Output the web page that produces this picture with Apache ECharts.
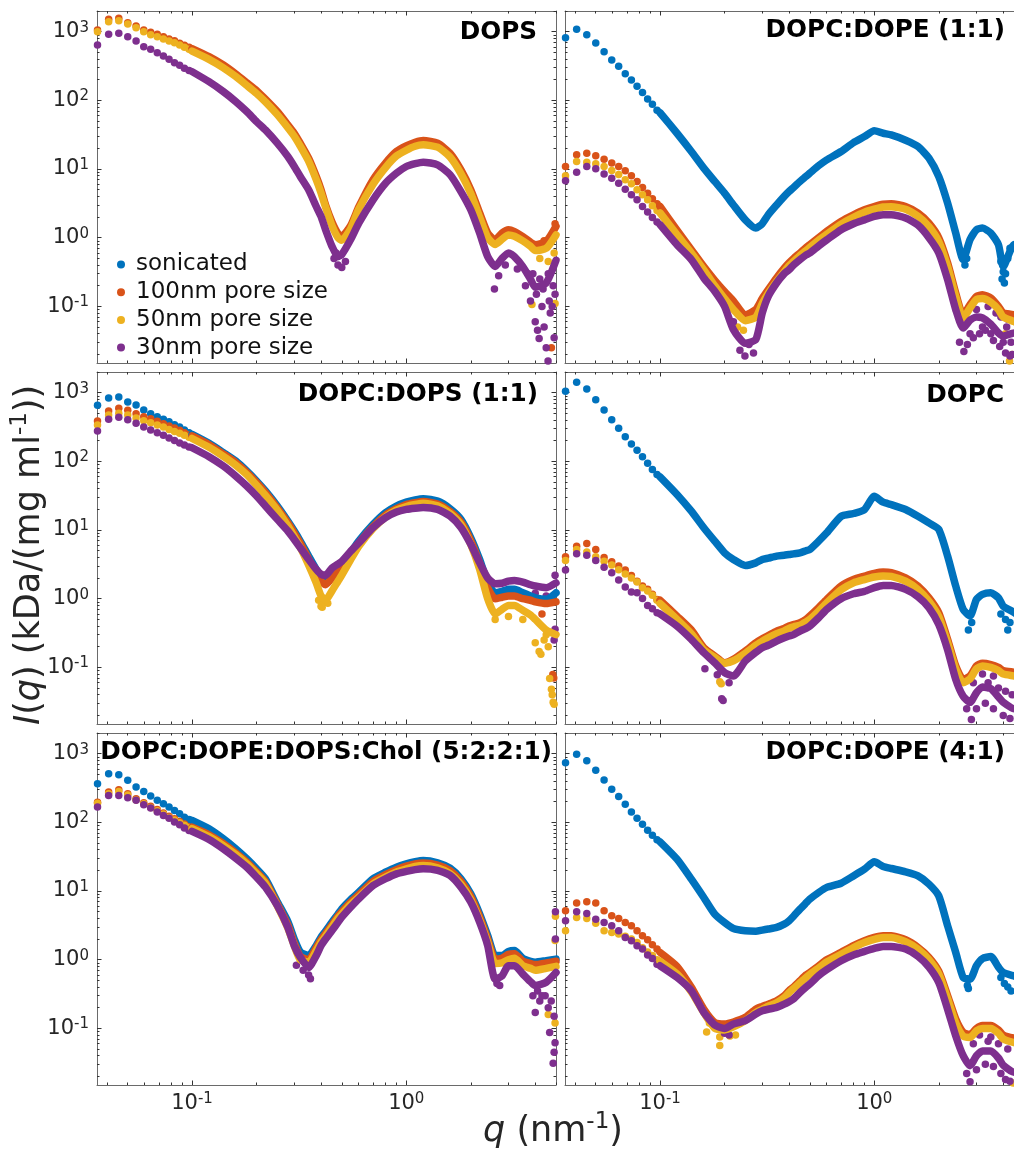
<!DOCTYPE html>
<html>
<head>
<meta charset="utf-8">
<script src="https://cdn.jsdelivr.net/npm/echarts@6/dist/echarts.min.js"></script>
<style>
  html, body { margin: 0; padding: 0; background: #fff; }
  #chart { width: 1014px; height: 1150px; }
</style>
</head>
<body>
<div id="chart"></div>
<script>
const seriesNames = ['sonicated', '100nm pore size', '50nm pore size', '30nm pore size']
const colors = ['#0072BD', '#D95319', '#EDB120', '#7E2F8E']

// tick positions
const majorX = [0.1, 1]
const minorX = [0.04, 0.05, 0.06, 0.07, 0.08, 0.09, 0.2, 0.3, 0.4, 0.5, 0.6, 0.7, 0.8, 0.9, 2, 3, 4, 5]
const majorY = [0.1, 1, 10, 100, 1000]
const minorY = [0.02, 0.03, 0.04, 0.05, 0.06, 0.07, 0.08, 0.09, 0.2, 0.3, 0.4, 0.5, 0.6, 0.7, 0.8, 0.9,
  2, 3, 4, 5, 6, 7, 8, 9, 20, 30, 40, 50, 60, 70, 80, 90, 200, 300, 400, 500, 600, 700, 800, 900, 2000]

// q of the separate low-q points, and q of the points along the dense part
const qLow = [0.0362, 0.0408, 0.0455, 0.0501, 0.0548, 0.0595, 0.0641, 0.0688, 0.0735, 0.0781, 0.0828, 0.0875, 0.0921, 0.0968]
const qDense = [0.1, 0.12, 0.14, 0.16, 0.18, 0.2, 0.22, 0.25, 0.28, 0.3, 0.32, 0.35, 0.38, 0.4, 0.42, 0.45, 0.48, 0.5,
  0.55, 0.6, 0.7, 0.8, 0.9, 1.0, 1.1, 1.2, 1.4, 1.6, 1.8, 2.0, 2.2, 2.4, 2.6, 2.8, 3.0, 3.2, 3.5, 3.8, 4.0, 4.5, 5.0]

// DOPS
const dopsLow100 = [1057, 1511, 1563, 1352, 1210, 1057, 978, 914, 846, 782, 740, 677, 633, 592]
const dopsLow50 = [1000, 1397, 1445, 1292, 1143, 1000, 904, 846, 782, 732, 692, 640, 592, 553]
const dopsLow30 = [640, 915, 946, 846, 731, 605, 553, 495, 443, 396, 354, 324, 293, 271]
const dops100 = [566, 433, 327, 242, 181, 139, 104, 68.7, 44, 33.2, 23.8, 14.4, 7.8, 5.0, 3.0, 1.7, 1.15, 1.05, 1.5, 2.8, 7.0, 12.2, 18, 21.7, 24.5, 26, 23.8, 17, 9.7, 5.0, 2.3, 1.17, 0.93, 1.17, 1.31, 1.23, 1.04, 0.86, 0.79, 0.88, 1.46]
const dops50 = [520, 395, 298, 222, 165, 126, 95, 62, 40, 30, 21.5, 13, 7.0, 4.5, 2.8, 1.5, 1.0, 0.92, 1.35, 2.6, 6.0, 10.5, 15.5, 18.8, 21.5, 22.5, 20.8, 15.0, 8.6, 4.4, 2.0, 1.0, 0.8, 0.95, 1.1, 1.05, 0.9, 0.75, 0.65, 0.7, 1.1]
const dops30 = [262, 187, 134, 96, 68.7, 49.1, 37.1, 23.8, 15.2, 10.9, 7.8, 5.0, 2.85, 2.04, 1.31, 0.75, 0.53, 0.57, 0.94, 1.63, 3.56, 6.2, 8.7, 10.9, 12.0, 12.6, 11.5, 8.3, 4.7, 2.55, 1.17, 0.53, 0.38, 0.5, 0.6, 0.53, 0.38, 0.25, 0.19, 0.22, 0.47]
const dopsOut100 = [[4.76, 0.025], [4.95, 1.6], [4.4, 0.9], [4.1, 0.7]]
const dopsOut50 = [[3.86, 0.107], [4.95, 0.11], [4.9, 0.6], [4.2, 0.5], [4.6, 0.45]]
const dopsOut30 = [[0.47, 0.6], [0.48, 0.4], [0.5, 0.37], [0.52, 0.45], [0.46, 0.5], [2.58, 0.18], [3.6, 0.2], [3.8, 0.12],
  [4.0, 0.06], [4.1, 0.045], [4.17, 0.034], [4.3, 0.1], [4.4, 0.05], [4.5, 0.025], [4.59, 0.016], [4.7, 0.08], [4.8, 0.1],
  [4.9, 0.035], [4.95, 0.15], [3.9, 0.3], [4.2, 0.25], [4.6, 0.3], [2.7, 0.28], [3.3, 0.35], [3.7, 0.3], [4.05, 0.15],
  [4.35, 0.18], [4.65, 0.12], [4.85, 0.2], [2.9, 0.4]]

// DOPC:DOPE (1:1)
const dope11LowSon = [818, 1081, 904, 684, 512, 387, 313, 245, 198, 160, 130, 105, 88, 72]
const dope11Low100 = [10.9, 16.1, 17.0, 15.6, 13.9, 12.2, 10.9, 9.42, 7.96, 6.59, 5.39, 4.46, 3.69, 3.12]
const dope11Low50 = [7.96, 12.9, 12.6, 11.9, 10.9, 9.53, 8.32, 6.97, 6.1, 4.98, 4.22, 3.56, 2.92, 2.49]
const dope11Low30 = [6.73, 9.0, 10.9, 10.1, 8.5, 7.37, 6.23, 5.1, 4.22, 3.56, 2.85, 2.36, 1.97, 1.69]
const dope11Son = [66, 33.2, 18, 10.3, 6.6, 4.46, 3.0, 1.82, 1.38, 1.6, 2.16, 3.0, 4.0, 4.7, 5.4, 6.6, 7.8, 8.7, 11.2, 13.6, 18, 24.3, 29.7, 36, 33.2, 31.4, 26.3, 21.3, 14.4, 7.8, 3.19, 1.17, 0.48, 0.94, 1.31, 1.38, 1.17, 0.79, 0.38, 0.8, 0.6]
const dope11100 = [2.85, 1.29, 0.67, 0.38, 0.24, 0.165, 0.12, 0.075, 0.09, 0.13, 0.175, 0.26, 0.36, 0.43, 0.5, 0.6, 0.72, 0.79, 1.0, 1.24, 1.73, 2.16, 2.55, 2.85, 3.08, 3.12, 2.85, 2.28, 1.63, 1.0, 0.43, 0.157, 0.075, 0.106, 0.14, 0.148, 0.132, 0.1, 0.081, 0.075, 0.06]
const dope1150 = [2.3, 1.1, 0.6, 0.34, 0.2, 0.13, 0.09, 0.062, 0.07, 0.11, 0.155, 0.23, 0.32, 0.39, 0.45, 0.55, 0.65, 0.72, 0.92, 1.12, 1.58, 1.98, 2.35, 2.6, 2.8, 2.82, 2.6, 2.05, 1.45, 0.88, 0.38, 0.14, 0.068, 0.095, 0.126, 0.13, 0.115, 0.09, 0.07, 0.06, 0.05]
const dope1130 = [1.55, 0.79, 0.48, 0.26, 0.166, 0.1, 0.046, 0.029, 0.033, 0.08, 0.14, 0.219, 0.3, 0.342, 0.4, 0.48, 0.56, 0.6, 0.76, 0.93, 1.31, 1.6, 1.82, 2.04, 2.16, 2.16, 1.94, 1.52, 1.0, 0.6, 0.245, 0.09, 0.0485, 0.063, 0.07, 0.068, 0.055, 0.041, 0.037, 0.041, 0.04]
const dope11OutSon = [[3.9, 0.45], [4.0, 0.32], [4.1, 0.3], [4.2, 0.5], [4.3, 0.7], [2.65, 0.4], [2.7, 0.5], [3.95, 0.25], [4.05, 0.22]]
const dope11Out50 = [[0.224, 0.046], [0.23, 0.05], [0.245, 0.045], [4.28, 0.016], [4.4, 0.02], [4.1, 0.04]]
const dope11Out30 = [[0.236, 0.023], [0.249, 0.019], [0.273, 0.021], [0.26, 0.028], [0.22, 0.06], [2.5, 0.03], [2.62, 0.022],
  [2.72, 0.028], [2.9, 0.035], [3.1, 0.04], [3.3, 0.045], [3.6, 0.032], [3.85, 0.026], [4.1, 0.021], [4.3, 0.019],
  [3.0, 0.09], [3.4, 0.1], [3.9, 0.07], [4.2, 0.065], [4.4, 0.02], [2.8, 0.04], [3.2, 0.05], [3.5, 0.04], [3.7, 0.08],
  [4.0, 0.03], [4.15, 0.05], [4.35, 0.03]]

// DOPC:DOPS (1:1)
const dopcdopsLowSon = [654, 836, 864, 731, 661, 559, 495, 447, 409, 378, 342, 316, 286, 261]
const dopcdopsLow100 = [387, 541, 592, 553, 495, 447, 418, 383, 354, 327, 306, 283, 261, 242]
const dopcdopsLow50 = [338, 473, 500, 473, 428, 391, 365, 338, 316, 292, 273, 256, 240, 224]
const dopcdopsLow30 = [277, 409, 438, 405, 358, 316, 286, 261, 240, 219, 202, 185, 173, 162]
const dopcdopsSon = [247, 183, 134, 101, 72.3, 51.7, 37, 22.4, 13.5, 9.67, 6.92, 4.18, 2.67, 2.14, 2.02, 2.39, 2.85, 3.16, 4.68, 6.92, 12.1, 17.9, 22.4, 25.6, 27.5, 28.6, 26.4, 20.5, 14.3, 7.73, 3.74, 1.71, 1.22, 1.28, 1.37, 1.37, 1.22, 1.1, 1.03, 0.98, 1.22]
const dopcdops100 = [235, 175, 128, 96, 69, 49, 35, 21, 12.7, 9.0, 6.4, 3.8, 2.35, 1.8, 1.6, 2.0, 2.45, 2.8, 4.3, 6.4, 11.2, 16.5, 20.5, 23.5, 25, 26, 24, 18.6, 13, 7.0, 3.3, 1.45, 1.0, 1.05, 1.1, 1.1, 1.0, 0.95, 0.9, 0.85, 0.9]
const dopcdops50 = [215, 160, 118, 88, 64, 45, 32, 19.5, 11.5, 8.0, 5.6, 3.1, 1.7, 1.1, 0.95, 1.3, 1.8, 2.2, 3.7, 5.8, 10.5, 15.5, 19.5, 22, 23.5, 24.5, 22.5, 17.5, 12, 6.2, 2.7, 1.0, 0.6, 0.7, 0.8, 0.8, 0.68, 0.58, 0.5, 0.35, 0.3]
const dopcdops30 = [158, 117, 85.5, 61, 43.7, 31.3, 22.4, 14.3, 9.67, 7.31, 5.53, 3.74, 2.67, 2.27, 2.2, 2.8, 3.2, 3.5, 4.9, 6.5, 10.9, 15.2, 18.3, 20, 20.8, 21.3, 20, 16, 10.9, 6.2, 3.35, 2.0, 1.65, 1.68, 1.8, 1.85, 1.75, 1.6, 1.53, 1.45, 1.7]
const dopcdopsOut100 = [[4.83, 0.079], [4.88, 0.07], [4.3, 0.6]]
const dopcdopsOut50 = [[0.40, 0.78], [0.405, 0.75], [0.43, 0.86], [0.39, 0.95], [0.41, 0.9], [4.0, 0.229], [4.17, 0.17],
  [4.25, 0.155], [4.67, 0.069], [4.76, 0.048], [4.85, 0.031], [4.9, 0.029], [4.8, 0.04], [4.5, 0.3], [3.0, 0.55], [3.5, 0.5],
  [2.6, 0.5], [4.4, 0.25], [4.6, 0.2]]
const dopcdopsOut30 = [[4.95, 2.2], [4.9, 0.25], [4.95, 0.36], [4.0, 1.2], [4.5, 1.1], [4.7, 0.9]]

// DOPC
const dopcLowSon = [1046, 1413, 1130, 791, 560, 405, 303, 229, 179, 145, 117, 93.8, 75.9, 64.3]
const dopcLow100 = [4.07, 5.82, 6.37, 5.21, 3.98, 3.45, 2.99, 2.61, 2.18, 1.80, 1.53, 1.37, 1.16, 0.977]
const dopcLow50 = [3.6, 5.2, 4.8, 4.1, 3.5, 3.1, 2.65, 2.3, 2.0, 1.75, 1.45, 1.3, 1.12, 0.95]
const dopcLow30 = [2.61, 4.51, 4.31, 3.61, 2.88, 2.39, 1.87, 1.48, 1.25, 1.22, 1.01, 0.8, 0.715, 0.625]
const dopcSon = [59.4, 32.9, 18.8, 10.8, 6.89, 4.66, 3.73, 3.05, 3.33, 3.73, 3.9, 4.17, 4.3, 4.41, 4.5, 4.66, 5.0, 5.21, 6.89, 9.1, 15.8, 17.4, 19.9, 31, 25.4, 23.5, 19.9, 15.9, 12.7, 10.2, 4.17, 1.53, 0.7, 0.56, 0.98, 1.16, 1.22, 1.03, 0.78, 0.63, 0.5]
const dopc100 = [0.95, 0.558, 0.35, 0.194, 0.147, 0.117, 0.131, 0.173, 0.229, 0.262, 0.29, 0.338, 0.37, 0.40, 0.42, 0.447, 0.5, 0.558, 0.74, 0.977, 1.53, 1.91, 2.13, 2.33, 2.44, 2.39, 2.02, 1.53, 1.03, 0.625, 0.256, 0.105, 0.067, 0.075, 0.105, 0.115, 0.11, 0.1, 0.09, 0.085, 0.08]
const dopc50 = [0.85, 0.5, 0.31, 0.18, 0.14, 0.115, 0.125, 0.16, 0.21, 0.24, 0.27, 0.31, 0.34, 0.37, 0.39, 0.41, 0.46, 0.5, 0.66, 0.87, 1.35, 1.7, 1.9, 2.07, 2.15, 2.12, 1.8, 1.36, 0.92, 0.55, 0.23, 0.095, 0.06, 0.068, 0.095, 0.105, 0.1, 0.09, 0.08, 0.075, 0.07]
const dopc30 = [0.6, 0.40, 0.256, 0.164, 0.117, 0.084, 0.075, 0.124, 0.166, 0.194, 0.21, 0.242, 0.27, 0.286, 0.3, 0.338, 0.37, 0.40, 0.528, 0.70, 1.0, 1.18, 1.28, 1.45, 1.56, 1.56, 1.37, 1.07, 0.74, 0.42, 0.18, 0.067, 0.038, 0.031, 0.043, 0.052, 0.049, 0.037, 0.031, 0.025, 0.03]
const dopcOutSon = [[2.75, 0.35], [2.85, 0.45], [3.9, 0.6], [4.2, 0.35], [4.3, 0.45], [4.1, 0.5]]
const dopcOut50 = [[0.19, 0.062], [0.193, 0.058]]
const dopcOut30 = [[0.194, 0.035], [0.197, 0.033], [0.162, 0.0955], [0.185, 0.078], [0.21, 0.06], [2.84, 0.0175], [2.7, 0.025],
  [3.0, 0.025], [3.3, 0.03], [3.6, 0.025], [4.0, 0.02], [4.3, 0.018], [3.2, 0.08], [3.6, 0.075], [2.9, 0.06],
  [3.4, 0.06], [3.8, 0.05], [4.1, 0.045], [4.4, 0.04]]

// DOPC:DOPE:DOPS:Chol (5:2:2:1)
const cholLowSon = [365, 511, 494, 409, 326, 282, 242, 209, 187, 167, 149, 134, 119, 110]
const cholLow100 = [197, 276, 298, 261, 221, 193, 171, 154, 137, 123, 113, 103, 94.4, 87.3]
const cholLow50 = [190, 262, 282, 250, 212, 186, 165, 148, 132, 118, 108, 99, 91, 84]
const cholLow30 = [167, 247, 247, 228, 209, 181, 162, 141, 126, 115, 101, 92.3, 82.5, 76.2]
const cholSon = [107, 80.7, 57.7, 41.2, 29.5, 21.1, 15.1, 7.0, 3.6, 2.0, 1.3, 1.15, 1.61, 2.13, 2.6, 3.52, 4.6, 5.5, 7.5, 9.6, 15.1, 18.8, 22.3, 24.9, 26.8, 27.9, 25.8, 21.5, 15.1, 9.1, 4.65, 2.25, 1.15, 1.15, 1.32, 1.36, 1.05, 0.95, 0.92, 0.97, 1.02]
const chol100 = [85, 66, 49, 36, 26.5, 19, 13.8, 6.5, 3.2, 1.75, 1.12, 1.0, 1.5, 1.95, 2.4, 3.2, 4.3, 5.0, 6.9, 8.8, 13.8, 17.3, 20.5, 23, 24.8, 25.5, 23.8, 19.8, 13.8, 8.3, 4.2, 2.0, 1.02, 1.05, 1.2, 1.22, 0.95, 0.88, 0.85, 0.9, 0.95]
const chol50 = [81, 62, 46, 34, 25, 18, 13, 6.1, 2.9, 1.6, 1.0, 0.92, 1.35, 1.8, 2.2, 3.0, 4.0, 4.6, 6.4, 8.1, 12.7, 16, 19, 21, 22.8, 23.5, 21.8, 18, 12.5, 7.5, 3.8, 1.8, 0.88, 0.9, 1.0, 1.05, 0.82, 0.75, 0.7, 0.75, 0.8]
const chol30 = [73.8, 56.4, 41.2, 30.1, 22.3, 15.9, 11.4, 6.15, 2.97, 1.6, 1.09, 0.77, 1.15, 1.6, 2.0, 2.66, 3.5, 4.16, 5.8, 7.69, 12, 15.1, 17.8, 19.3, 20.5, 21.1, 20, 16.9, 11.4, 6.9, 3.52, 1.6, 0.52, 0.58, 0.82, 0.82, 0.62, 0.48, 0.42, 0.47, 0.65]
const cholOut50 = [[4.97, 4.3], [4.95, 1.9], [4.6, 0.16], [4.95, 0.12]]
const cholOut30 = [[0.357, 0.53], [0.35, 0.6], [0.307, 0.83], [0.33, 0.7], [2.73, 0.42], [4.0, 0.17], [4.2, 0.25], [4.67, 0.087],
  [4.85, 0.031], [4.9, 0.045], [4.95, 0.062], [4.45, 0.3], [4.97, 5.0], [4.97, 2.0], [4.6, 0.2], [3.9, 0.3],
  [2.65, 0.45], [4.1, 0.35], [4.3, 0.3], [4.75, 0.25], [4.9, 0.15]]

// DOPC:DOPE (4:1)
const dope41LowSon = [740, 978, 791, 572, 414, 303, 237, 183, 142, 115, 93.8, 76.7, 64.9, 55.6]
const dope41Low100 = [5.15, 6.67, 6.97, 6.67, 5.15, 4.36, 3.99, 3.48, 3.12, 2.64, 2.23, 1.95, 1.65, 1.43]
const dope41Low50 = [2.64, 4.12, 3.99, 3.41, 2.64, 2.5, 2.37, 2.2, 2.0, 1.78, 1.5, 1.3, 1.15, 1.0]
const dope41Low30 = [3.69, 4.99, 4.71, 3.9, 3.48, 3.12, 2.64, 2.11, 1.89, 1.6, 1.43, 1.17, 1.04, 0.86]
const dope41Son = [52, 29.1, 14.9, 8.06, 4.61, 3.48, 2.85, 2.64, 2.6, 2.7, 2.8, 2.95, 3.3, 3.69, 4.3, 5.45, 6.7, 7.62, 9.53, 11.3, 13, 16.6, 20.8, 26.6, 22.8, 21.3, 19, 16.6, 12.6, 8.5, 3.12, 1.28, 0.553, 0.52, 0.82, 1.04, 1.11, 0.78, 0.65, 0.58, 0.5]
const dope41100 = [1.28, 0.8, 0.396, 0.191, 0.122, 0.116, 0.124, 0.145, 0.191, 0.209, 0.225, 0.253, 0.3, 0.354, 0.4, 0.494, 0.6, 0.653, 0.81, 1.0, 1.28, 1.6, 1.89, 2.11, 2.23, 2.23, 1.95, 1.51, 1.08, 0.68, 0.3, 0.137, 0.0877, 0.081, 0.1, 0.11, 0.11, 0.095, 0.08, 0.072, 0.07]
const dope4150 = [0.95, 0.62, 0.34, 0.17, 0.1, 0.095, 0.105, 0.13, 0.17, 0.19, 0.21, 0.235, 0.28, 0.33, 0.38, 0.46, 0.55, 0.61, 0.76, 0.93, 1.2, 1.5, 1.78, 1.98, 2.1, 2.1, 1.83, 1.42, 1.0, 0.62, 0.27, 0.12, 0.077, 0.074, 0.092, 0.1, 0.1, 0.085, 0.07, 0.062, 0.06]
const dope4130 = [0.817, 0.553, 0.354, 0.171, 0.112, 0.1, 0.116, 0.13, 0.162, 0.181, 0.19, 0.202, 0.225, 0.245, 0.27, 0.334, 0.4, 0.442, 0.585, 0.715, 0.966, 1.17, 1.32, 1.46, 1.56, 1.56, 1.43, 1.12, 0.78, 0.465, 0.19, 0.078, 0.04, 0.0287, 0.04, 0.047, 0.047, 0.037, 0.029, 0.023, 0.025]
const dope41OutSon = [[2.72, 0.42], [2.75, 0.38], [3.9, 0.55], [4.2, 0.4], [4.35, 0.35], [4.05, 0.45]]
const dope41Out50 = [[0.165, 0.0885], [0.19, 0.0565], [0.19, 0.075], [0.212, 0.0775], [0.225, 0.08], [0.17, 0.12], [4.45, 0.016]]
const dope41Out30 = [[2.8, 0.0167], [4.1, 0.018], [2.7, 0.022], [3.0, 0.025], [3.3, 0.03], [3.6, 0.028], [3.9, 0.022],
  [4.3, 0.017], [3.1, 0.08], [3.5, 0.075], [2.9, 0.06], [0.2, 0.085], [0.21, 0.08], [3.4, 0.065], [3.8, 0.06], [4.2, 0.05]]

// panels in grid order: row by row, left then right
const panels = [
  { title: 'DOPS', tx: 537, ty: 33,
    low: [null, dopsLow100, dopsLow50, dopsLow30], dense: [null, dops100, dops50, dops30], out: [null, dopsOut100, dopsOut50, dopsOut30] },
  { title: 'DOPC:DOPE (1:1)', tx: 1005, ty: 31,
    low: [dope11LowSon, dope11Low100, dope11Low50, dope11Low30], dense: [dope11Son, dope11100, dope1150, dope1130], out: [dope11OutSon, null, dope11Out50, dope11Out30] },
  { title: 'DOPC:DOPS (1:1)', tx: 538, ty: 395,
    low: [dopcdopsLowSon, dopcdopsLow100, dopcdopsLow50, dopcdopsLow30], dense: [dopcdopsSon, dopcdops100, dopcdops50, dopcdops30], out: [null, dopcdopsOut100, dopcdopsOut50, dopcdopsOut30] },
  { title: 'DOPC', tx: 1004, ty: 396,
    low: [dopcLowSon, dopcLow100, dopcLow50, dopcLow30], dense: [dopcSon, dopc100, dopc50, dopc30], out: [dopcOutSon, null, dopcOut50, dopcOut30] },
  { title: 'DOPC:DOPE:DOPS:Chol (5:2:2:1)', tx: 552, ty: 753,
    low: [cholLowSon, cholLow100, cholLow50, cholLow30], dense: [cholSon, chol100, chol50, chol30], out: [null, null, cholOut50, cholOut30] },
  { title: 'DOPC:DOPE (4:1)', tx: 1005, ty: 753,
    low: [dope41LowSon, dope41Low100, dope41Low50, dope41Low30], dense: [dope41Son, dope41100, dope4150, dope4130], out: [dope41OutSon, null, dope41Out50, dope41Out30] }
]

const font = 'DejaVu Sans'
const textColor = '#262626'
const frameColor = '#6a6a6a'
const tickColor = '#333'
const gridLefts = [97, 565]
const gridTops = [11, 372, 733]

const powLabel = v => '{b|10}{s|' + Math.round(Math.log10(v)) + '}'
const labelRich = {
  b: { fontFamily: font, fontSize: 21, color: textColor, lineHeight: 23 },
  s: { fontFamily: font, fontSize: 15, color: textColor, lineHeight: 23, verticalAlign: 'top' }
}

function makeAxis (gridIndex, dim, position, ticks, len, major, showLabels) {
  const isX = dim === 'x'
  return {
    type: 'log',
    logBase: 10,
    gridIndex,
    position,
    min: isX ? 0.036 : 0.015,
    max: isX ? 5 : 2000,
    axisLine: { show: major, onZero: false, lineStyle: { color: frameColor, width: 1 } },
    axisTick: { show: true, inside: true, length: len, customValues: ticks, lineStyle: { color: tickColor, width: 1 } },
    axisLabel: showLabels ? {
      show: true, customValues: ticks, formatter: powLabel, rich: labelRich, margin: isX ? 7 : 8
    } : { show: false },
    splitLine: { show: false },
    minorTick: { show: false }
  }
}

const grids = [], xAxes = [], yAxes = [], series = []
panels.forEach((p, i) => {
  const col = i % 2, row = Math.floor(i / 2)
  grids.push({ left: gridLefts[col], top: gridTops[row], width: 459, height: 352, containLabel: false, outerBoundsMode: 'none' })
  xAxes.push(makeAxis(i, 'x', 'bottom', majorX, 4.5, true, row === 2))
  xAxes.push(makeAxis(i, 'x', 'bottom', minorX, 2.5, false, false))
  xAxes.push(makeAxis(i, 'x', 'top', majorX, 4.5, true, false))
  xAxes.push(makeAxis(i, 'x', 'top', minorX, 2.5, false, false))
  yAxes.push(makeAxis(i, 'y', 'left', majorY, 4.5, true, col === 0))
  yAxes.push(makeAxis(i, 'y', 'left', minorY, 2.5, false, false))
  yAxes.push(makeAxis(i, 'y', 'right', majorY, 4.5, true, false))
  yAxes.push(makeAxis(i, 'y', 'right', minorY, 2.5, false, false))

  for (let k = 0; k < 4; k++) {
    if (!p.low[k]) continue
    const base = { name: seriesNames[k], xAxisIndex: i * 4, yAxisIndex: i * 4, silent: true, animation: false }
    const dot = { type: 'scatter', symbol: 'circle', symbolSize: 7.5, itemStyle: { color: colors[k], opacity: 1 } }
    series.push({ ...base, ...dot, data: qLow.map((q, j) => [q, p.low[k][j]]) })
    series.push({
      ...base, type: 'line', symbol: 'none', showSymbol: false, smooth: 0.2,
      itemStyle: { color: colors[k] },
      lineStyle: { color: colors[k], width: 7.5, cap: 'round', join: 'round', opacity: 1 },
      data: qDense.map((q, j) => [q, p.dense[k][j]])
    })
    if (p.out[k]) series.push({ ...base, ...dot, data: p.out[k] })
  }
})

const titleGraphics = panels.map(p => ({
  type: 'text', x: p.tx, y: p.ty, z: 100,
  style: {
    text: p.title, fill: '#000', fontFamily: font, fontWeight: 'bold', fontSize: 24.7,
    align: 'right', verticalAlign: 'middle', textAlign: 'right', textVerticalAlign: 'middle'
  }
}))

const nameRich = {
  i: { fontFamily: font, fontSize: 35, fontStyle: 'italic', fill: textColor, lineHeight: 42 },
  n: { fontFamily: font, fontSize: 35, fill: textColor, lineHeight: 42 },
  s: { fontFamily: font, fontSize: 23, fill: textColor, lineHeight: 42, verticalAlign: 'top' }
}

const chart = echarts.init(document.getElementById('chart'), null, { renderer: 'canvas' })
chart.setOption({
  animation: false,
  backgroundColor: '#fff',
  grid: grids,
  xAxis: xAxes,
  yAxis: yAxes,
  legend: {
    data: seriesNames,
    orient: 'vertical',
    left: 112,
    top: 248,
    itemGap: 4.7,
    itemWidth: 20,
    itemHeight: 8,
    icon: 'circle',
    selectedMode: false,
    itemStyle: { opacity: 1 },
    textStyle: { fontFamily: font, fontSize: 23, color: '#111', lineHeight: 23 }
  },
  graphic: [
    ...titleGraphics,
    {
      type: 'text', x: 553, y: 1132,
      style: {
        text: '{i|q}{n| (nm}{s|-1}{n|)}', rich: nameRich, fontFamily: font, fontSize: 35, fill: textColor,
        align: 'center', verticalAlign: 'middle', textAlign: 'center', textVerticalAlign: 'middle'
      }
    },
    {
      type: 'text', x: 30, y: 555, rotation: Math.PI / 2,
      style: {
        text: '{i|I}{n|(}{i|q}{n|) (kDa/(mg ml}{s|-1}{n|))}', rich: nameRich, fontFamily: font, fontSize: 35, fill: textColor,
        align: 'center', verticalAlign: 'middle', textAlign: 'center', textVerticalAlign: 'middle'
      }
    }
  ],
  series
})
</script>
</body>
</html>
